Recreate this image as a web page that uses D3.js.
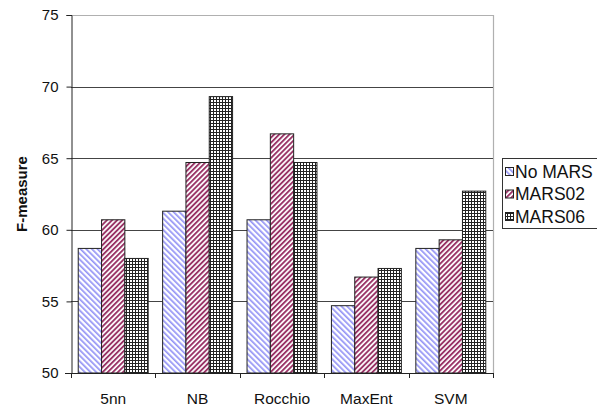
<!DOCTYPE html>
<html><head><meta charset="utf-8">
<script src="https://cdn.jsdelivr.net/npm/d3@7"></script>
<style>body{margin:0;background:#fff}svg{display:block;font-family:"Liberation Sans",Arial,sans-serif}</style>
</head><body>
<svg id="c" width="597" height="407"></svg>
<script>
const categories = ["5nn", "NB", "Rocchio", "MaxEnt", "SVM"];
const seriesNames = ["No MARS", "MARS02", "MARS06"];
const noMars = [58.7, 61.3, 60.7, 54.7, 58.7];
const mars02 = [60.7, 64.7, 66.7, 56.7, 59.3];
const mars06 = [58.0, 69.3, 64.7, 57.3, 62.7];
const yTicks = [50, 55, 60, 65, 70, 75];
const yLabel = "F-measure";

const seriesValues = [noMars, mars02, mars06];
const svg = d3.select("#c");
const L = 71, R = 493, T = 15, B = 373;

const defs = svg.append("defs");
const p1 = defs.append("pattern").attr("id","p0").attr("patternUnits","userSpaceOnUse")
  .attr("width",4).attr("height",4).attr("patternTransform","rotate(-45)");
p1.append("rect").attr("width",4).attr("height",4).attr("fill","#fff");
p1.append("rect").attr("width",1.7).attr("height",4).attr("fill","#9494f5");
const p2 = defs.append("pattern").attr("id","p1").attr("patternUnits","userSpaceOnUse")
  .attr("width",3.6).attr("height",4).attr("patternTransform","rotate(45)");
p2.append("rect").attr("width",3.6).attr("height",4).attr("fill","#fff");
p2.append("rect").attr("width",1.9).attr("height",4).attr("fill","#993366");
const p3 = defs.append("pattern").attr("id","p2").attr("patternUnits","userSpaceOnUse")
  .attr("width",3).attr("height",3);
p3.append("rect").attr("width",3).attr("height",3).attr("fill","#fff");
p3.append("rect").attr("width",3).attr("height",1).attr("fill","#222");
p3.append("rect").attr("width",1).attr("height",3).attr("fill","#222");

const x0 = d3.scaleBand().domain(categories).range([L, R]).paddingInner(0).paddingOuter(0);
const x1 = d3.scaleBand().domain(seriesNames).range([0, x0.bandwidth()]).paddingInner(0).paddingOuter(0.31);
const y = d3.scaleLinear().domain([50, 75]).range([B, T]);

svg.append("path").attr("d", `M${L},${y(75)+0.5}H${R+0.5}V${B}`)
  .attr("fill","none").attr("stroke","#b0b0b0").attr("stroke-width",1.2);
svg.append("g").selectAll("line").data(yTicks.filter(t => t>50 && t<75)).join("line")
  .attr("x1", L).attr("x2", R).attr("y1", d => Math.round(y(d))+0.5).attr("y2", d => Math.round(y(d))+0.5)
  .attr("stroke","#444").attr("stroke-width",1);

const g = svg.append("g");
categories.forEach((c, i) => {
  seriesNames.forEach((s, j) => {
    const v = seriesValues[j][i];
    g.append("rect")
      .attr("x", x0(c) + x1(s)).attr("y", y(v))
      .attr("width", x1.bandwidth()).attr("height", B - y(v))
      .attr("fill", `url(#p${j})`).attr("stroke","#222").attr("stroke-width",1);
  });
});

const ya = svg.append("g").attr("transform",`translate(${L+0.5},0)`)
  .call(d3.axisLeft(y).tickValues(yTicks).tickSize(5).tickPadding(8).tickFormat(d3.format("d")));
ya.select(".domain").attr("stroke","#222");
ya.selectAll(".tick line").attr("stroke","#222");
ya.selectAll("text").attr("font-size",15).attr("fill","#111").attr("font-family","Liberation Sans, Arial, sans-serif");

const xa = svg.append("g").attr("transform",`translate(0,${B+0.5})`)
  .call(d3.axisBottom(x0).tickSize(0).tickPadding(19));
xa.select(".domain").attr("stroke","#222").attr("d", `M${L-6},0H${R}`);
xa.selectAll("text").attr("font-size",15.5).attr("fill","#111").attr("font-family","Liberation Sans, Arial, sans-serif");
svg.append("g").selectAll("line").data(categories.concat(["__end"])).join("line")
  .attr("x1", (d,i) => Math.round(L + i*x0.step())+0.5).attr("x2", (d,i) => Math.round(L + i*x0.step())+0.5)
  .attr("y1", B).attr("y2", B+5).attr("stroke","#222");

svg.append("text").attr("transform",`translate(27,${(T+B)/2}) rotate(-90)`)
  .attr("text-anchor","middle").attr("font-weight","bold").attr("font-size",15).attr("fill","#111")
  .text(yLabel);

const lg = svg.append("g");
lg.append("rect").attr("x",502.5).attr("y",158.5).attr("width",100).attr("height",70)
  .attr("fill","#fff").attr("stroke","#333").attr("stroke-width",1);
seriesNames.forEach((s, j) => {
  const cy = 171.5 + j*22.5;
  lg.append("rect").attr("x",505.5).attr("y",cy-4).attr("width",8).attr("height",8)
    .attr("fill",`url(#p${j})`).attr("stroke","#222");
  lg.append("text").attr("x",515).attr("y",cy+6).attr("font-size",17.5).attr("fill","#111").text(s);
});
</script>
</body></html>
